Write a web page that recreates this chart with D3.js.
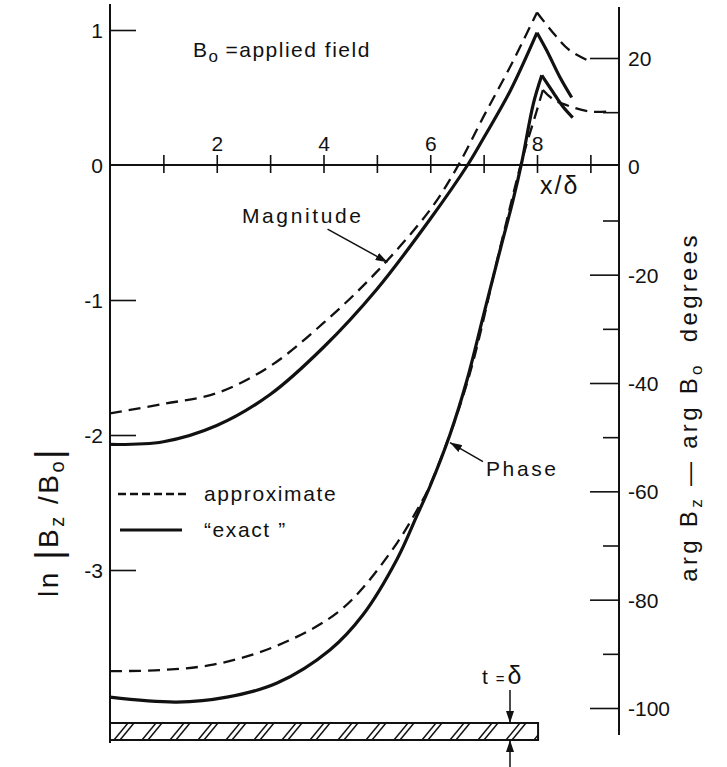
<!DOCTYPE html>
<html>
<head>
<meta charset="utf-8">
<script src="https://cdn.jsdelivr.net/npm/d3@7"></script>
<style>
  body { margin: 0; background: #fff; }
  text { font-family: "Liberation Sans", Arial, sans-serif; fill: #111; }
</style>
</head>
<body>
<svg id="chart" width="727" height="767"></svg>
<script>
// magnitude, ln|Bz/Bo| against x/delta (left axis)
const magExactX  = [0, 1, 2, 3, 4, 5, 6, 6.7, 7, 7.5, 8.0, 8.18, 8.43, 8.65];
const magExactY  = [-2.07, -2.05, -1.93, -1.70, -1.35, -0.92, -0.40, 0, 0.2, 0.55, 0.98, 0.85, 0.65, 0.50];
const magApproxX = [0, 1, 2, 3, 4, 5, 6, 6.5, 7, 7.5, 8.0, 8.3, 8.61, 9.03];
const magApproxY = [-1.84, -1.77, -1.69, -1.49, -1.17, -0.79, -0.33, -0.02, 0.36, 0.73, 1.13, 0.98, 0.85, 0.76];

// phase, arg Bz - arg Bo in degrees (right axis)
const phaseExactX  = [0, 1.25, 2.19, 3.13, 4.12, 4.74, 5.38, 5.75, 5.99, 6.37, 6.69, 6.99, 7.31, 7.55, 7.72, 7.93, 8.09, 8.3, 8.48, 8.67];
const phaseExactY  = [-98.0, -98.9, -98.0, -95.4, -89.3, -82.8, -72.5, -64.5, -59.2, -49.5, -39.4, -27.8, -15.4, -6.3, 1.0, 11.5, 16.8, 13.7, 11.1, 9.0];
const phaseApproxX = [0, 0.94, 1.87, 2.81, 3.75, 4.31, 4.74, 5.38, 5.75, 5.99, 6.69, 7.31, 7.72, 8.0, 8.11, 8.3, 8.61, 8.99, 9.3];
const phaseApproxY = [-93.2, -93.0, -92.1, -89.7, -85.6, -82.0, -77.8, -69.5, -63.5, -59.0, -40.0, -15.0, 1.2, 10.4, 14.1, 12.4, 11.1, 10.1, 10.1];

const xTicks = [1, 2, 3, 4, 5, 6, 7, 8, 9];
const xLabels = [2, 4, 6, 8];
const leftTicks = [1, 0, -1, -2, -3];
const rightMajor = [20, 0, -20, -40, -60, -80, -100];
const rightMinor = [10, -10, -30, -50, -70, -90];

const svg = d3.select("#chart");

var x  = d3.scaleLinear().domain([0, 8]).range([110, 537]);
var yL = d3.scaleLinear().domain([-3, 1]).range([570, 30]);
var yR = d3.scaleLinear().domain([-100, 20]).range([708, 58]);

const ink = "#111";

// axis lines
svg.append("line").attr("x1", 110).attr("x2", 110).attr("y1", 4).attr("y2", 743)
   .attr("stroke", ink).attr("stroke-width", 2);
svg.append("line").attr("x1", 619).attr("x2", 619).attr("y1", 7).attr("y2", 735)
   .attr("stroke", ink).attr("stroke-width", 2);
svg.append("line").attr("x1", 110).attr("x2", 619).attr("y1", yL(0)).attr("y2", yL(0))
   .attr("stroke", ink).attr("stroke-width", 2);

function minusFmt(d) { return d < 0 ? "-" + Math.abs(d) : String(d); }

// left axis
var gl = svg.append("g").attr("transform", "translate(110,0)")
   .call(d3.axisLeft(yL).tickValues(leftTicks).tickSizeInner(-26).tickSizeOuter(0)
        .tickPadding(7).tickFormat(minusFmt));
gl.select(".domain").remove();
gl.selectAll(".tick line").attr("stroke", ink).attr("stroke-width", 1.6);
gl.selectAll(".tick text").style("font-size", "21px").attr("dy", "0.36em");
gl.selectAll(".tick").filter(d => d === 0).select("line").remove();

// right axis
var gr = svg.append("g").attr("transform", "translate(619,0)")
   .call(d3.axisRight(yR).tickValues(rightMajor).tickSizeInner(-29).tickSizeOuter(0)
        .tickPadding(9).tickFormat(minusFmt));
gr.select(".domain").remove();
gr.selectAll(".tick line").attr("stroke", ink).attr("stroke-width", 1.6);
gr.selectAll(".tick text").style("font-size", "21px").attr("dy", "0.36em");
gr.selectAll(".tick").filter(d => d === 0).select("line").remove();

var grm = svg.append("g").attr("transform", "translate(619,0)")
   .call(d3.axisRight(yR).tickValues(rightMinor).tickSizeInner(-16).tickSizeOuter(0).tickFormat(""));
grm.select(".domain").remove();
grm.selectAll(".tick line").attr("stroke", ink).attr("stroke-width", 1.6);

// x axis (ticks cross the line, labels above)
var gx = svg.append("g").attr("transform", "translate(0," + yL(0) + ")")
   .call(d3.axisTop(x).tickValues(xTicks).tickSizeInner(10).tickSizeOuter(0).tickPadding(4)
        .tickFormat(d => xLabels.includes(d) ? d : ""));
gx.select(".domain").remove();
gx.selectAll(".tick line").attr("y1", 8).attr("stroke", ink).attr("stroke-width", 1.6);
gx.selectAll(".tick text").style("font-size", "21px");

svg.append("text").attr("x", 540).attr("y", 194).style("font-size", "25px")
  .style("letter-spacing", "2px").text("x/δ");

// curves: split at the peak so the cusp stays sharp
function drawCurve(xs, ys, yScale, dashed) {
  var pts = xs.map((v, i) => [v, ys[i]]);
  var k = d3.maxIndex(ys);
  var gen = d3.line().x(d => x(d[0])).y(d => yScale(d[1])).curve(d3.curveCatmullRom.alpha(0.5));
  [pts.slice(0, k + 1), pts.slice(k)].forEach(function(part) {
    svg.append("path").attr("d", gen(part))
      .attr("fill", "none").attr("stroke", ink)
      .attr("stroke-width", dashed ? 2.3 : 3.2)
      .attr("stroke-dasharray", dashed ? "12,7" : null);
  });
}
drawCurve(magApproxX, magApproxY, yL, true);
drawCurve(magExactX, magExactY, yL, false);
drawCurve(phaseApproxX, phaseApproxY, yR, true);
drawCurve(phaseExactX, phaseExactY, yR, false);

// arrow marker
svg.append("defs").append("marker")
  .attr("id", "head").attr("viewBox", "0 0 12 8").attr("refX", 12).attr("refY", 4)
  .attr("markerWidth", 12).attr("markerHeight", 8).attr("markerUnits", "userSpaceOnUse")
  .attr("orient", "auto")
  .append("path").attr("d", "M0,0 L12,4 L0,8 Z").attr("fill", ink);

// annotations
svg.append("text").attr("x", 193).attr("y", 57).style("font-size", "21px").style("letter-spacing", "1.5px")
  .call(t => {
    t.append("tspan").text("B");
    t.append("tspan").attr("dy", 5).style("font-size", "17px").text("o");
    t.append("tspan").attr("dy", -5).attr("dx", 6).text("=applied field");
  });

var magTip = [x(5.2), yL(-0.72)];
svg.append("line").attr("x1", magTip[0] - 60).attr("y1", magTip[1] - 33)
  .attr("x2", magTip[0]).attr("y2", magTip[1])
  .attr("stroke", ink).attr("stroke-width", 1.5).attr("marker-end", "url(#head)");
svg.append("text").attr("x", 242).attr("y", 223).style("font-size", "21px").style("letter-spacing", "2.6px").text("Magnitude");

var phTip = [x(6.37), yR(-51)];
svg.append("line").attr("x1", phTip[0] + 33).attr("y1", phTip[1] + 19)
  .attr("x2", phTip[0]).attr("y2", phTip[1])
  .attr("stroke", ink).attr("stroke-width", 1.5).attr("marker-end", "url(#head)");
svg.append("text").attr("x", 486).attr("y", 476).style("font-size", "21px").style("letter-spacing", "2.6px").text("Phase");

// legend
svg.append("line").attr("x1", 118).attr("x2", 190).attr("y1", 494).attr("y2", 494)
  .attr("stroke", ink).attr("stroke-width", 2.3).attr("stroke-dasharray", "8,4");
svg.append("text").attr("x", 204).attr("y", 501).style("font-size", "21px").style("letter-spacing", "1.6px").text("approximate");
svg.append("line").attr("x1", 120).attr("x2", 182).attr("y1", 530).attr("y2", 530)
  .attr("stroke", ink).attr("stroke-width", 3);
svg.append("text").attr("x", 204).attr("y", 537).style("font-size", "21px").style("letter-spacing", "1.6px").text("\u201cexact \u201d");

// axis titles
svg.append("text").attr("transform", "translate(58,522) rotate(-90)")
  .attr("text-anchor", "middle").style("font-size", "28px").style("letter-spacing", "2.5px")
  .call(t => {
    t.append("tspan").text("ln ");
    t.append("tspan").attr("dy", 3).style("font-size", "36px").text("|");
    t.append("tspan").attr("dy", -3).text("B");
    t.append("tspan").attr("dy", 6).style("font-size", "20px").text("z");
    t.append("tspan").attr("dy", -6).text(" /B");
    t.append("tspan").attr("dy", 6).style("font-size", "20px").text("o");
    t.append("tspan").attr("dy", -3).style("font-size", "36px").text("|");
  });

svg.append("text").attr("transform", "translate(697,407) rotate(-90)")
  .attr("text-anchor", "middle").style("font-size", "24px").style("letter-spacing", "3.3px")
  .call(t => {
    t.append("tspan").text("arg B");
    t.append("tspan").attr("dy", 5).style("font-size", "17px").text("z");
    t.append("tspan").attr("dy", -5).text(" \u2014 arg B");
    t.append("tspan").attr("dy", 5).style("font-size", "17px").text("o");
    t.append("tspan").attr("dy", -5).attr("dx", 20).text("degrees");
  });

// plate of thickness t = delta
var plateTop = 723, plateH = 17, px0 = x(0), px1 = x(8.02);
svg.append("clipPath").attr("id", "plateclip").append("rect")
  .attr("x", px0).attr("y", plateTop).attr("width", px1 - px0).attr("height", plateH);
var hatch = svg.append("g").attr("clip-path", "url(#plateclip)");
d3.range(px0 + 4, px1 + 20, 28).forEach(function(h) {
  [0, 6].forEach(function(o) {
    hatch.append("line").attr("x1", h + o).attr("y1", plateTop + plateH)
      .attr("x2", h + o + 14).attr("y2", plateTop)
      .attr("stroke", ink).attr("stroke-width", 1.5);
  });
});
svg.append("rect").attr("x", px0).attr("y", plateTop).attr("width", px1 - px0).attr("height", plateH)
  .attr("fill", "none").attr("stroke", ink).attr("stroke-width", 2);

svg.append("line").attr("x1", 510).attr("x2", 510).attr("y1", 690).attr("y2", plateTop)
  .attr("stroke", ink).attr("stroke-width", 1.5).attr("marker-end", "url(#head)");
svg.append("line").attr("x1", 510).attr("x2", 510).attr("y1", 767).attr("y2", plateTop + plateH)
  .attr("stroke", ink).attr("stroke-width", 1.5).attr("marker-end", "url(#head)");
svg.append("text").attr("x", 482).attr("y", 684).style("font-size", "21px")
  .call(t => {
    t.append("tspan").text("t");
    t.append("tspan").attr("dx", 8).style("font-size", "15px").text("=");
    t.append("tspan").attr("dx", 3).style("font-size", "25px").text("δ");
  });
</script>
</body>
</html>
